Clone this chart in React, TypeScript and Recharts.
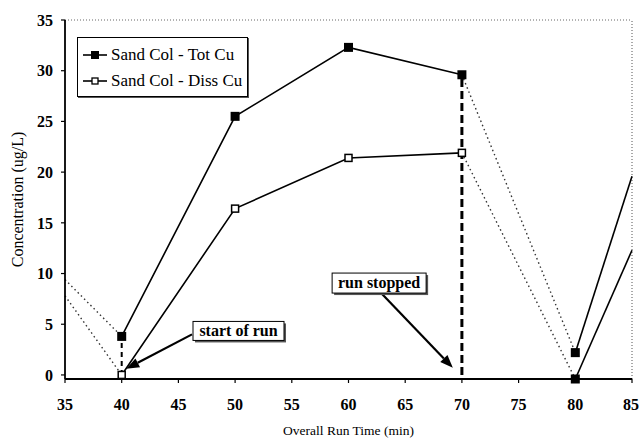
import React from 'react';
import { LineChart, Line, XAxis, YAxis, ReferenceLine, ReferenceDot, Legend } from 'recharts';

// sampled run times (min) and copper concentrations (ug/L)
const runTimes = [40, 50, 60, 70];
const totCu = [3.8, 25.5, 32.3, 29.6];
const dissCu = [0, 16.4, 21.4, 21.9];

// dotted joins before the run and while it was stopped
const leadTimes = [35, 40];
const totCuLead = [9.4, 3.8];
const dissCuLead = [7.8, 0];

const stopTimes = [70, 80];
const totCuStop = [29.6, 2.2];
const dissCuStop = [21.9, -0.4];

// restart
const restartTimes = [80, 85];
const totCuRestart = [2.2, 19.6];
const dissCuRestart = [-0.4, 12.3];

const xTicks = [35, 40, 45, 50, 55, 60, 65, 70, 75, 80, 85];
const yTicks = [0, 5, 10, 15, 20, 25, 30, 35];
const xMinorTicks = Array.from({ length: 51 }, (_, i) => 35 + i);
const yMinorTicks = Array.from({ length: 36 }, (_, i) => i);

const seriesNames = ['Sand Col - Tot Cu', 'Sand Col - Diss Cu'];

const startNote = { text: 'start of run', at: [50.3, 4.34], from: [46.2, 4.0], to: [40.4, 0.6], w: 91, h: 19 };
const stopNote = { text: 'run stopped', at: [62.7, 9.06], from: [62.6, 8.4], to: [69.2, 0.7], w: 94, h: 20 };

const FONT = "'Liberation Serif', 'DejaVu Serif', 'Noto Serif', 'Times New Roman', Times, serif";

const rows = (xs: number[], ys: number[]) => xs.map((t, i) => ({ t, v: ys[i] }));

const FilledSquare = (props: any) => {
  const { cx, cy, key } = props;
  if (cx == null || cy == null) return null;
  return <rect key={key} x={cx - 4.5} y={cy - 4.5} width={9} height={9} fill="#000" />;
};

const OpenSquare = (props: any) => {
  const { cx, cy, key } = props;
  if (cx == null || cy == null) return null;
  return <rect key={key} x={cx - 3.5} y={cy - 3.5} width={7} height={7} fill="#fff" stroke="#000" strokeWidth={1.5} />;
};

const Arrow = (props: any) => {
  const { x1, y1, x2, y2 } = props;
  const dx = x2 - x1;
  const dy = y2 - y1;
  const len = Math.hypot(dx, dy) || 1;
  const ux = dx / len;
  const uy = dy / len;
  const bx = x2 - ux * 13;
  const by = y2 - uy * 13;
  return (
    <g>
      <line x1={x1} y1={y1} x2={bx} y2={by} stroke="#000" strokeWidth={2.2} />
      <polygon points={`${x2},${y2} ${bx - uy * 5},${by + ux * 5} ${bx + uy * 5},${by - ux * 5}`} fill="#000" />
    </g>
  );
};

const noteBox = (note: typeof startNote) => (props: any) => {
  const { cx, cy } = props;
  return (
    <g>
      <rect x={cx - note.w / 2 + 2} y={cy - note.h / 2 + 2} width={note.w} height={note.h} fill="#555" />
      <rect x={cx - note.w / 2} y={cy - note.h / 2} width={note.w} height={note.h} fill="#fff" stroke="#000" strokeWidth={1} />
      <text x={cx} y={cy + 5} textAnchor="middle" style={{ fontFamily: FONT }} fontSize={16} fontWeight="bold" fill="#000">
        {note.text}
      </text>
    </g>
  );
};

// the last x label sits at the right edge of the page, so it is right-aligned
const XTick = (props: any) => {
  const { x, y, payload } = props;
  const last = payload.value === xTicks[xTicks.length - 1];
  return (
    <text
      x={last ? x + 7 : x}
      y={y}
      dy="0.71em"
      textAnchor={last ? 'end' : 'middle'}
      style={{ fontFamily: FONT }}
      fontSize={16}
      fontWeight="bold"
      fill="#000"
    >
      {payload.value}
    </text>
  );
};

const LegendBox = () => (
  <div
    style={{
      width: 171,
      height: 60,
      boxSizing: 'border-box',
      border: '1px solid #000',
      boxShadow: '1px 1px 0 #555',
      background: '#fff',
      fontFamily: FONT,
      fontSize: 17,
      color: '#000',
      padding: '4px 0 0 5px',
      whiteSpace: 'nowrap',
    }}
  >
    {seriesNames.map((name, i) => (
      <div key={name} style={{ display: 'flex', alignItems: 'center', height: 26 }}>
        <svg width={24} height={12} style={{ marginRight: 4, flexShrink: 0 }}>
          <line x1={0} y1={6} x2={24} y2={6} stroke="#000" strokeWidth={1.6} />
          {i === 0 ? (
            <rect x={8} y={2} width={8} height={8} fill="#000" />
          ) : (
            <rect x={9} y={3} width={6} height={6} fill="#fff" stroke="#000" strokeWidth={1.3} />
          )}
        </svg>
        <span>{name}</span>
      </div>
    ))}
  </div>
);

const tickStyle = { fontFamily: FONT, fontSize: 16, fontWeight: 'bold', fill: '#000' };
const solid = { stroke: '#000', strokeWidth: 1.6 };
const dotted = { stroke: '#333', strokeWidth: 1.4, strokeDasharray: '1.5 3' };

export default function App() {
  return (
    <div style={{ position: 'absolute', left: 8, top: 8, width: 631, height: 431, fontFamily: FONT }}>
      <LineChart width={631} height={431} margin={{ top: 12, right: 7, bottom: 0, left: 0 }} style={{ fontFamily: FONT }}>
        <XAxis
          type="number"
          dataKey="t"
          domain={[35, 85]}
          ticks={xTicks}
          interval={0}
          height={60}
          tick={<XTick />}
          tickSize={4}
          tickMargin={16}
          axisLine={{ stroke: '#000', strokeWidth: 1.8 }}
          tickLine={{ stroke: '#000', strokeWidth: 1.2 }}
          label={{ value: 'Overall Run Time (min)', position: 'insideBottom', offset: 4, style: { fontFamily: FONT, fontSize: 13.5, fill: '#000' } }}
        />
        <XAxis
          xAxisId="minor"
          type="number"
          dataKey="t"
          domain={[35, 85]}
          allowDataOverflow
          ticks={xMinorTicks}
          interval={0}
          mirror
          tick={false}
          tickSize={4}
          axisLine={false}
          tickLine={{ stroke: '#000', strokeWidth: 1.1 }}
        />
        <YAxis
          type="number"
          domain={() => [0, 35]}
          ticks={yTicks}
          interval={0}
          width={57}
          tick={tickStyle}
          tickSize={4}
          tickMargin={8}
          axisLine={{ stroke: '#000', strokeWidth: 1.8 }}
          tickLine={{ stroke: '#000', strokeWidth: 1.2 }}
          label={{ value: 'Concentration (ug/L)', angle: -90, position: 'insideLeft', offset: 9, style: { textAnchor: 'middle', fontFamily: FONT, fontSize: 16, fill: '#000' } }}
        />
        <YAxis
          yAxisId="minor"
          type="number"
          domain={[0, 35]}
          allowDataOverflow
          ticks={yMinorTicks}
          interval={0}
          mirror
          tick={false}
          tickSize={4}
          axisLine={false}
          tickLine={{ stroke: '#000', strokeWidth: 1.1 }}
        />

        <ReferenceLine y={35} stroke="#666" strokeWidth={1} strokeDasharray="1 2" />
        <ReferenceLine x={85} stroke="#555" strokeWidth={1} strokeDasharray="1 2" />

        <Line data={rows(leadTimes, totCuLead)} dataKey="v" {...dotted} dot={false} isAnimationActive={false} legendType="none" />
        <Line data={rows(leadTimes, dissCuLead)} dataKey="v" {...dotted} dot={false} isAnimationActive={false} legendType="none" />
        <Line data={rows(stopTimes, totCuStop)} dataKey="v" {...dotted} dot={false} isAnimationActive={false} legendType="none" />
        <Line data={rows(stopTimes, dissCuStop)} dataKey="v" {...dotted} dot={false} isAnimationActive={false} legendType="none" />

        <ReferenceLine
          segment={[{ x: runTimes[0], y: 0 }, { x: runTimes[0], y: totCu[0] }]}
          stroke="#000"
          strokeWidth={2}
          strokeDasharray="5 4"
        />
        <ReferenceLine
          segment={[{ x: runTimes[3], y: 0 }, { x: runTimes[3], y: totCu[3] }]}
          stroke="#000"
          strokeWidth={3}
          strokeDasharray="8 4"
        />

        <Line name={seriesNames[0]} data={rows(runTimes, totCu)} dataKey="v" {...solid} dot={FilledSquare} isAnimationActive={false} />
        <Line name={seriesNames[1]} data={rows(runTimes, dissCu)} dataKey="v" {...solid} dot={OpenSquare} isAnimationActive={false} />
        <Line data={rows(restartTimes, totCuRestart)} dataKey="v" {...solid} dot={(p: any) => (p.index === 0 ? <FilledSquare {...p} /> : <g key={p.key} />)} isAnimationActive={false} legendType="none" />
        <Line data={rows(restartTimes, dissCuRestart)} dataKey="v" {...solid} dot={(p: any) => (p.index === 0 ? <FilledSquare {...p} /> : <g key={p.key} />)} isAnimationActive={false} legendType="none" />

        <ReferenceLine segment={[{ x: startNote.from[0], y: startNote.from[1] }, { x: startNote.to[0], y: startNote.to[1] }]} shape={Arrow} />
        <ReferenceLine segment={[{ x: stopNote.from[0], y: stopNote.from[1] }, { x: stopNote.to[0], y: stopNote.to[1] }]} shape={Arrow} />
        <ReferenceDot x={startNote.at[0]} y={startNote.at[1]} r={0} shape={noteBox(startNote)} />
        <ReferenceDot x={stopNote.at[0]} y={stopNote.at[1]} r={0} shape={noteBox(stopNote)} />

        <Legend
          layout="vertical"
          align="center"
          verticalAlign="middle"
          content={() => <LegendBox />}
          wrapperStyle={{ left: 69, top: 29, width: 171, height: 60 }}
        />
      </LineChart>
    </div>
  );
}
